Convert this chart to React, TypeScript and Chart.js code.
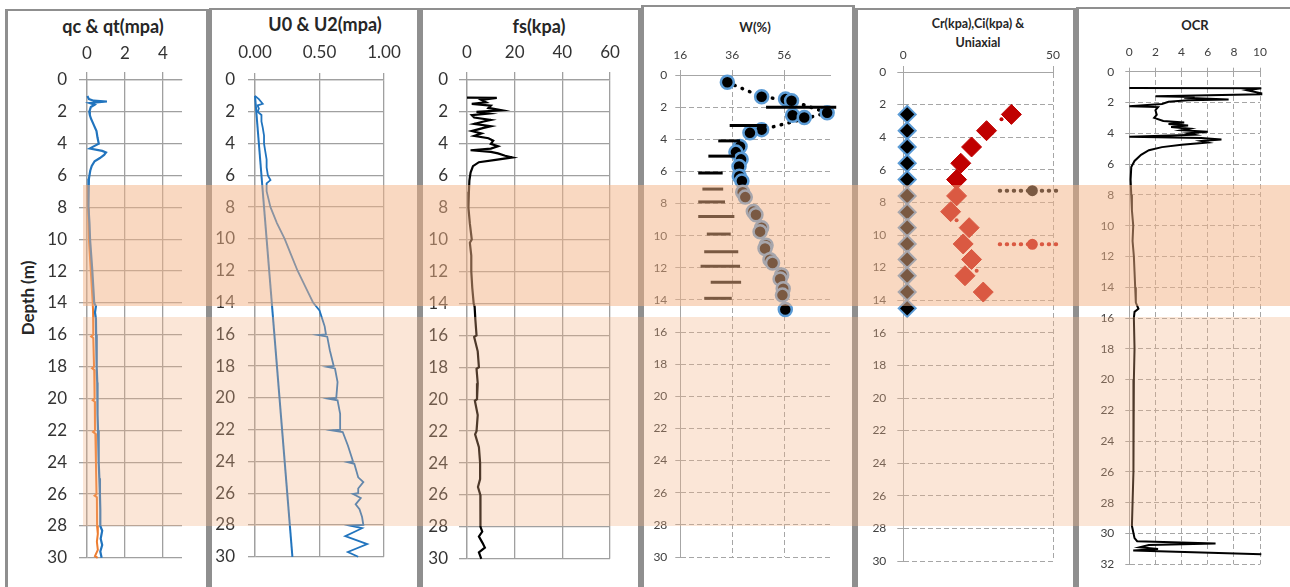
import React, { useEffect, useRef } from "react";
import { Chart, registerables } from "chart.js";
Chart.register(...registerables);

const FONT = "Lato, 'Noto Sans', sans-serif";

// ---------------- data (depth in m, value) ----------------
const depthTicks30 = [0, 2, 4, 6, 8, 10, 12, 14, 16, 18, 20, 22, 24, 26, 28, 30];
const depthTicks32 = [0, 2, 4, 6, 8, 10, 12, 14, 16, 18, 20, 22, 24, 26, 28, 30, 32];

// Panel 1: qc & qt (MPa)
const qcqtTicks = [0, 2, 4];
const qtProfile: [number, number][] = [
  [1.0, 0.02], [1.2, 0.1], [1.3, 0.35], [1.35, 1.05], [1.4, 0.5], [1.45, 0.15], [1.55, 0.4], [1.7, 0.2],
  [2.0, 0.12], [2.2, 0.15], [2.4, 0.2], [2.8, 0.35], [3.2, 0.5], [3.6, 0.55], [4.0, 0.62], [4.2, 0.3],
  [4.3, 0.15], [4.45, 0.8], [4.55, 1.0], [4.7, 0.9], [4.9, 0.68], [5.1, 0.4], [5.4, 0.25], [5.7, 0.17],
  [6.2, 0.1], [6.6, 0.06], [7, 0.07], [8, 0.1], [9, 0.13], [10, 0.16], [11, 0.22], [12, 0.28], [13, 0.33],
  [14, 0.38], [14.2, 0.47], [14.6, 0.42], [15, 0.47], [16, 0.48], [17, 0.5], [18, 0.52], [19, 0.54],
  [20, 0.55], [21, 0.56], [22, 0.58], [23, 0.6], [24, 0.63], [25, 0.65], [26, 0.68], [27, 0.7], [28, 0.7],
  [28.3, 0.8], [28.8, 0.72], [29.2, 0.8], [29.6, 0.7], [30, 0.77],
];
const qcProfile: [number, number][] = [
  [6.6, 0.04], [8, 0.06], [10, 0.1], [12, 0.2], [14, 0.3], [14.5, 0.32], [16, 0.33], [16.1, 0.22], [16.2, 0.33],
  [18, 0.37], [18.1, 0.27], [18.2, 0.38], [20, 0.4], [20.1, 0.3], [20.2, 0.41], [22, 0.42], [22.1, 0.32],
  [22.2, 0.44], [24, 0.47], [26, 0.5], [26.1, 0.4], [26.2, 0.52], [28, 0.53], [28.5, 0.57], [29, 0.52],
  [29.5, 0.57], [29.9, 0.42], [30, 0.56],
];

// Panel 2: U0 & U2 (MPa)
const uTicks = [0, 0.5, 1.0];
const u0Profile: [number, number][] = [[1.0, 0.0], [30, 0.29]];
const u2Profile: [number, number][] = [
  [1.0, 0.0], [1.2, 0.03], [1.4, 0.05], [1.5, 0.06], [1.6, 0.02], [1.8, 0.03], [2.0, 0.02], [2.2, 0.05],
  [2.6, 0.05], [3.0, 0.06], [3.5, 0.07], [4.0, 0.07], [4.5, 0.08], [5.0, 0.09], [5.5, 0.09], [6.0, 0.1],
  [6.3, 0.12], [6.5, 0.09], [7, 0.09], [8, 0.12], [9, 0.17], [10, 0.23], [11, 0.28], [12, 0.33], [13, 0.39],
  [14, 0.45], [14.5, 0.5], [15, 0.52], [15.5, 0.54], [16, 0.55], [16.05, 0.49], [16.15, 0.56], [17, 0.58],
  [18, 0.61], [18.05, 0.56], [18.15, 0.62], [19, 0.64], [20, 0.63], [20.05, 0.57], [20.15, 0.64], [21, 0.66],
  [22, 0.66], [22.05, 0.6], [22.15, 0.68], [23, 0.72], [24, 0.76], [24.05, 0.72], [24.15, 0.77], [25, 0.8],
  [25.3, 0.84], [25.7, 0.8], [26, 0.8], [26.05, 0.76], [26.3, 0.82], [26.7, 0.78], [27, 0.81], [27.5, 0.83],
  [28, 0.84], [28.05, 0.74], [28.2, 0.83], [28.7, 0.7], [29.2, 0.87], [29.7, 0.72], [30, 0.8],
];

// Panel 3: fs (kPa)
const fsTicks = [0, 20, 40, 60];
const fsProfile: [number, number][] = [
  [1.1, 0], [1.12, 12.5], [1.25, 6], [1.4, 8], [1.5, 2], [1.6, 10], [1.75, 9], [1.9, 14.5], [2.0, 4], [2.1, 9],
  [2.2, 2], [2.35, 3], [2.5, 10], [2.6, 7], [2.75, 3], [2.9, 10], [3.0, 7], [3.2, 2], [3.35, 6], [3.5, 3],
  [3.65, 9], [3.8, 11], [4.0, 10], [4.15, 13], [4.3, 10], [4.4, 1.5], [4.5, 10], [4.6, 13], [4.75, 16],
  [4.85, 19], [5.0, 12], [5.15, 5], [5.4, 2.5], [5.8, 1.5], [6.3, 1], [7, 0.8], [8, 0.6], [9, 1.2], [10, 2],
  [10.2, 1.2], [11, 1.8], [12, 1.8], [13, 2.2], [14, 2.8], [14.2, 3.2], [15, 3.5], [16, 4], [16.1, 3], [17, 4.5],
  [18, 5], [18.1, 4], [19, 4.5], [20, 4.2], [20.1, 3.3], [21, 4.5], [22, 4], [22.2, 3.4], [23, 5], [24, 5.5],
  [25, 5.5], [25.5, 4.6], [26, 5.6], [27, 5.5], [28, 5.8], [28.3, 6.4], [28.6, 5], [29, 6.5], [29.3, 7.5],
  [29.6, 5], [30, 6],
];

// Panel 4: W (%)
const wTicks = [16, 36, 56];
const wPoints: [number, number][] = [
  [0.45, 34.1], [1.35, 47.3], [1.5, 56.5], [1.6, 58.8], [2.35, 72.5], [2.5, 59.2], [2.65, 63.7], [3.4, 47.3],
  [3.6, 42.8], [4.45, 39], [4.8, 37.4], [5.25, 39.4], [5.7, 38.6], [6.3, 38.7], [6.6, 39.7], [7.3, 40],
  [7.6, 41], [8.5, 44.1], [8.7, 45.1], [9.5, 47.3], [9.75, 46.7], [10.6, 49], [10.8, 48.6], [11.5, 50.5],
  [11.7, 51.5], [12.45, 55], [12.7, 54.4], [13.3, 55.6], [13.7, 55.3], [14.6, 56.4],
];
const wTrend: [number, number][] = [[0.45, 34.1], [1.35, 47.3], [1.6, 58.8], [2.35, 72.5], [3.05, 56], [3.4, 47.3]];
const wRangeDepth = [2.0, 3.15, 4.1, 5.05, 6.1, 7.1, 7.9, 8.8, 9.9, 11.0, 11.9, 12.9, 13.9];
const wRangeLow = [49, 35, 30.6, 26.8, 22.9, 24.5, 22.9, 22.9, 26.2, 25.2, 23.8, 27.7, 25.2];
const wRangeHigh = [76, 49.2, 39, 37, 32.3, 32.5, 33.2, 36.8, 35.4, 38.3, 39, 39.4, 35.8];

// Panel 5: Cr, Ci & Uniaxial (kPa)
const crTicks = [0, 50];
const crPoints: [number, number][] = [
  [2.6, 1.3], [3.6, 1.3], [4.6, 1.3], [5.6, 1.3], [6.6, 1.3], [7.6, 1.3], [8.6, 1.3], [9.55, 1.3],
  [10.55, 1.3], [11.5, 1.3], [12.5, 1.3], [13.5, 1.3], [14.5, 1.3],
];
const ciPoints: [number, number][] = [
  [2.6, 36.1], [3.6, 27.8], [4.6, 22.8], [5.6, 19.2], [6.6, 17.8], [7.6, 17.8], [8.57, 15.8], [9.55, 22],
  [10.55, 20], [11.5, 22.8], [12.5, 20.6], [13.5, 26.7],
];
const ciSmall: [number, number][] = [[2.9, 32.8], [3.75, 29.5], [9.1, 17.8], [12.2, 24.5]];
const uniDepth = [7.28, 10.57];
const uniLow = [32.2, 32.2];
const uniMid = [43.1, 43.1];
const uniHigh = [52.8, 52.8];

// Panel 6: OCR
const ocrTicks = [0, 2, 4, 6, 8, 10];
const ocrProfile: [number, number][] = [
  [1.06, 0], [1.08, 10.1], [1.2, 9], [1.4, 10.1], [1.47, 10.1], [1.6, 2.0], [1.65, 5], [1.7, 4.2], [1.8, 7.6],
  [1.85, 4.5], [1.95, 3], [2.1, 2.5], [2.25, 0], [2.3, 2.2], [2.5, 2], [2.8, 2.1], [3.0, 1.9], [3.2, 2.6],
  [3.3, 4.2], [3.4, 3], [3.5, 4.5], [3.6, 3.2], [3.7, 4.6], [3.8, 4], [3.9, 6], [4.0, 4.5], [4.1, 5], [4.22, 0],
  [4.3, 5.5], [4.4, 7.05], [4.5, 5.5], [4.6, 6], [4.75, 4], [4.9, 2.5], [5.1, 1.5], [5.4, 0.9], [5.8, 0.4],
  [6.2, 0.15], [7, 0.1], [8, 0.15], [9, 0.2], [10, 0.3], [11, 0.25], [12, 0.35], [13, 0.4], [14, 0.45],
  [15, 0.5], [15.4, 0.7], [15.6, 0.4], [16, 0.35], [18, 0.4], [20, 0.35], [22, 0.3], [24, 0.35], [26, 0.3],
  [28, 0.25], [29.5, 0.2], [30.3, 0.4], [30.5, 0.6], [30.65, 6.6], [30.75, 1.5], [30.9, 0.8], [31.0, 2.2],
  [31.1, 0.3], [31.35, 10.1],
];

// ---------------- helpers ----------------
const toXY = (arr: [number, number][]) => arr.map(([d, v]) => ({ x: v, y: d }));

const line = (arr: [number, number][], color: string, width: number, extra: any = {}) => ({
  data: toXY(arr),
  showLine: true,
  borderColor: color,
  backgroundColor: color,
  borderWidth: width,
  pointRadius: 0,
  clip: false,
  ...extra,
});

type Rect = { left: number; top: number; right: number; bottom: number };
type AxisSpec = { min: number; max: number; ticks: number[]; fmt?: (v: number) => string; len: number; pad: number };
type PanelSpec = {
  canvas: { left: number; top: number; width: number; height: number };
  plot: Rect;
  x: AxisSpec;
  y: AxisSpec;
  fontSize: number;
  labelColor: string;
  gridColor: string;
  gridWidth: number;
  dashed: boolean;
  datasets: any[];
};

function buildConfig(s: PanelSpec): any {
  const c = s.canvas;
  const p = s.plot;
  const font = { family: FONT, size: s.fontSize };
  const grid = (len: number) => ({
    color: s.gridColor,
    lineWidth: s.gridWidth,
    drawTicks: true,
    tickLength: len,
    tickColor: s.gridColor,
    tickWidth: s.gridWidth,
  });
  const border = { display: true, color: s.gridColor, width: s.gridWidth, dash: s.dashed ? [5, 3] : [] };
  return {
    type: "scatter",
    data: { datasets: s.datasets },
    options: {
      responsive: false,
      maintainAspectRatio: false,
      animation: false,
      layout: {
        padding: { left: 0, top: 0, right: c.left + c.width - p.right, bottom: c.top + c.height - p.bottom },
      },
      plugins: { legend: { display: false }, tooltip: { enabled: false }, title: { display: false } },
      scales: {
        x: {
          type: "linear",
          position: "top",
          min: s.x.min,
          max: s.x.max,
          afterBuildTicks: (sc: any) => {
            sc.ticks = s.x.ticks.map((v) => ({ value: v }));
          },
          afterFit: (sc: any) => {
            sc.height = p.top - c.top;
          },
          ticks: {
            font,
            color: s.labelColor,
            padding: s.x.pad,
            autoSkip: false,
            maxRotation: 0,
            callback: (v: any) => (s.x.fmt ? s.x.fmt(Number(v)) : String(v)),
          },
          grid: grid(s.x.len),
          border,
        },
        y: {
          type: "linear",
          reverse: true,
          min: s.y.min,
          max: s.y.max,
          afterBuildTicks: (sc: any) => {
            sc.ticks = s.y.ticks.map((v) => ({ value: v }));
          },
          afterFit: (sc: any) => {
            sc.width = p.left - c.left;
          },
          ticks: {
            font,
            color: s.labelColor,
            padding: s.y.pad,
            autoSkip: false,
            callback: (v: any) => String(v),
          },
          grid: grid(s.y.len),
          border,
        },
      },
    },
  };
}

function PanelChart({ spec }: { spec: PanelSpec }) {
  const ref = useRef<HTMLCanvasElement>(null);
  useEffect(() => {
    const chart = new Chart(ref.current as HTMLCanvasElement, buildConfig(spec));
    return () => chart.destroy();
  }, []);
  const c = spec.canvas;
  return (
    <canvas
      ref={ref}
      width={c.width}
      height={c.height}
      style={{ position: "absolute", left: c.left, top: c.top, width: c.width, height: c.height }}
    />
  );
}

// ---------------- panel specs ----------------
const SOLID_GRID = "#a0a0a0";
const DASH_GRID = "#a6a6a6";
const BLUE = "#2174BE";
const ORANGE = "#ED7D31";
const W_BORDER = "#5B9BD5";

const panels: PanelSpec[] = [
  {
    canvas: { left: 10, top: 30, width: 200, height: 550 },
    plot: { left: 87, top: 80, right: 182, bottom: 560 },
    x: { min: 0, max: 5, ticks: qcqtTicks, len: 8, pad: 8 },
    y: { min: 0, max: 30, ticks: depthTicks30, len: 8, pad: 12 },
    fontSize: 17,
    labelColor: "#333333",
    gridColor: SOLID_GRID,
    gridWidth: 1.3,
    dashed: false,
    datasets: [line(qtProfile, BLUE, 2.2), line(qcProfile, ORANGE, 2)],
  },
  {
    canvas: { left: 212, top: 30, width: 200, height: 550 },
    plot: { left: 255, top: 80, right: 384, bottom: 560 },
    x: { min: 0, max: 1, ticks: uTicks, fmt: (v) => v.toFixed(2), len: 7, pad: 10 },
    y: { min: 0, max: 30, ticks: depthTicks30, len: 7, pad: 13 },
    fontSize: 17,
    labelColor: "#333333",
    gridColor: SOLID_GRID,
    gridWidth: 1.3,
    dashed: false,
    datasets: [line(u2Profile, BLUE, 1.8), line(u0Profile, BLUE, 2)],
  },
  {
    canvas: { left: 422, top: 30, width: 215, height: 550 },
    plot: { left: 467, top: 80, right: 610, bottom: 560 },
    x: { min: 0, max: 60, ticks: fsTicks, len: 8, pad: 9 },
    y: { min: 0, max: 30, ticks: depthTicks30, len: 8, pad: 11 },
    fontSize: 17,
    labelColor: "#333333",
    gridColor: SOLID_GRID,
    gridWidth: 1.3,
    dashed: false,
    datasets: [line(fsProfile, "#000000", 2.2)],
  },
  {
    canvas: { left: 644, top: 30, width: 208, height: 550 },
    plot: { left: 680.3, top: 75, right: 830, bottom: 557 },
    x: { min: 16, max: 73.6, ticks: wTicks, len: 5, pad: 8 },
    y: { min: 0, max: 30, ticks: depthTicks30, len: 5, pad: 8 },
    fontSize: 12,
    labelColor: "#404040",
    gridColor: DASH_GRID,
    gridWidth: 1,
    dashed: true,
    datasets: [
      ...wRangeDepth.map((d, i) =>
        line(
          [
            [d, wRangeLow[i]],
            [d, wRangeHigh[i]],
          ],
          "#000000",
          3
        )
      ),
      {
        data: toXY(wPoints),
        showLine: false,
        pointRadius: 6.5,
        pointBorderWidth: 2.5,
        pointBackgroundColor: "#000000",
        pointBorderColor: W_BORDER,
        clip: false,
      },
      line(wTrend, "#000000", 3.5, { borderDash: [0.5, 7.5], borderCapStyle: "round" }),
    ],
  },
  {
    canvas: { left: 858, top: 30, width: 215, height: 550 },
    plot: { left: 903.3, top: 72, right: 1053, bottom: 561 },
    x: { min: 0, max: 50, ticks: crTicks, len: 6, pad: 4 },
    y: { min: 0, max: 30, ticks: depthTicks30, len: 6, pad: 11 },
    fontSize: 12,
    labelColor: "#404040",
    gridColor: DASH_GRID,
    gridWidth: 1,
    dashed: true,
    datasets: [
      ...uniDepth.map((d, i) =>
        line(
          [
            [d, uniLow[i]],
            [d, uniMid[i]],
            [d, uniHigh[i]],
          ],
          i === 0 ? "#000000" : "#C00000",
          4,
          {
            borderDash: [0.5, 6.5],
            borderCapStyle: "round",
            pointRadius: [0, 3.5, 0],
          }
        )
      ),
      {
        data: toXY(crPoints),
        showLine: false,
        pointStyle: "rectRot",
        pointRadius: 8.5,
        pointBorderWidth: 2,
        pointBackgroundColor: "#000000",
        pointBorderColor: W_BORDER,
        clip: false,
      },
      {
        data: toXY(ciPoints),
        showLine: false,
        pointStyle: "rectRot",
        pointRadius: 10,
        pointBorderWidth: 1,
        pointBackgroundColor: "#C00000",
        pointBorderColor: "#C00000",
        clip: false,
      },
      {
        data: toXY(ciSmall),
        showLine: false,
        pointRadius: 2,
        pointBorderWidth: 0,
        pointBackgroundColor: "#C00000",
        clip: false,
      },
    ],
  },
  {
    canvas: { left: 1079, top: 30, width: 205, height: 555 },
    plot: { left: 1129.3, top: 71.7, right: 1260, bottom: 564.3 },
    x: { min: 0, max: 10, ticks: ocrTicks, len: 4, pad: 8 },
    y: { min: 0, max: 32, ticks: depthTicks32, len: 4, pad: 11 },
    fontSize: 12,
    labelColor: "#404040",
    gridColor: DASH_GRID,
    gridWidth: 1,
    dashed: true,
    datasets: [line(ocrProfile, "#000000", 2)],
  },
];

// ---------------- layout pieces ----------------
const frames = [
  { left: 5, top: 9, right: 209 },
  { left: 209, top: 8, right: 420 },
  { left: 420, top: 8, right: 641 },
  { left: 641, top: 5, right: 855 },
  { left: 855, top: 8, right: 1076 },
  { left: 1076, top: 7, right: 1300 },
];

const titles = [
  { text: ["qc & qt(mpa)"], cx: 113, cy: 27, size: 18 },
  { text: ["U0 & U2(mpa)"], cx: 325, cy: 25, size: 18 },
  { text: ["fs(kpa)"], cx: 539, cy: 27, size: 18 },
  { text: ["W(%)"], cx: 755, cy: 27, size: 13 },
  { text: ["Cr(kpa),Ci(kpa) &", "Uniaxial"], cx: 978, cy: 32.5, size: 12.5 },
  { text: ["OCR"], cx: 1195, cy: 25, size: 13 },
];

export default function App() {
  return (
    <div
      style={{
        position: "fixed",
        left: 0,
        top: 0,
        width: 1290,
        height: 587,
        overflow: "hidden",
        background: "#ffffff",
        fontFamily: FONT,
      }}
    >
      {frames.map((f, i) => (
        <div
          key={"f" + i}
          style={{
            position: "absolute",
            left: f.left,
            top: f.top,
            width: f.right - f.left,
            height: 640,
            boxSizing: "border-box",
            borderTop: "2px solid #8f8f8f",
            borderLeft: "3px solid #8f8f8f",
            borderRight: "3px solid #8f8f8f",
          }}
        />
      ))}
      {titles.map((t, i) => {
        const lh = t.text.length > 1 ? 19 : t.size * 1.3;
        return (
          <div
            key={"t" + i}
            style={{
              position: "absolute",
              left: t.cx - 120,
              width: 240,
              top: t.cy - (lh * t.text.length) / 2,
              textAlign: "center",
              fontWeight: 700,
              fontSize: t.size,
              lineHeight: lh + "px",
              color: "#262626",
              whiteSpace: "nowrap",
            }}
          >
            {t.text.map((s, j) => (
              <div key={j}>{s}</div>
            ))}
          </div>
        );
      })}
      <div
        style={{
          position: "absolute",
          left: 28 - 60,
          top: 298 - 11,
          width: 120,
          height: 22,
          lineHeight: "22px",
          textAlign: "center",
          fontWeight: 700,
          fontSize: 17,
          color: "#262626",
          transform: "rotate(-90deg)",
          whiteSpace: "nowrap",
        }}
      >
        Depth (m)
      </div>
      {panels.map((p, i) => (
        <PanelChart key={"p" + i} spec={p} />
      ))}
      <div
        style={{
          position: "absolute",
          left: 83,
          top: 185,
          width: 1207,
          height: 121,
          background: "rgba(244,177,131,0.5)",
          pointerEvents: "none",
        }}
      />
      <div
        style={{
          position: "absolute",
          left: 83,
          top: 317,
          width: 1207,
          height: 209,
          background: "rgba(244,177,131,0.32)",
          pointerEvents: "none",
        }}
      />
    </div>
  );
}
